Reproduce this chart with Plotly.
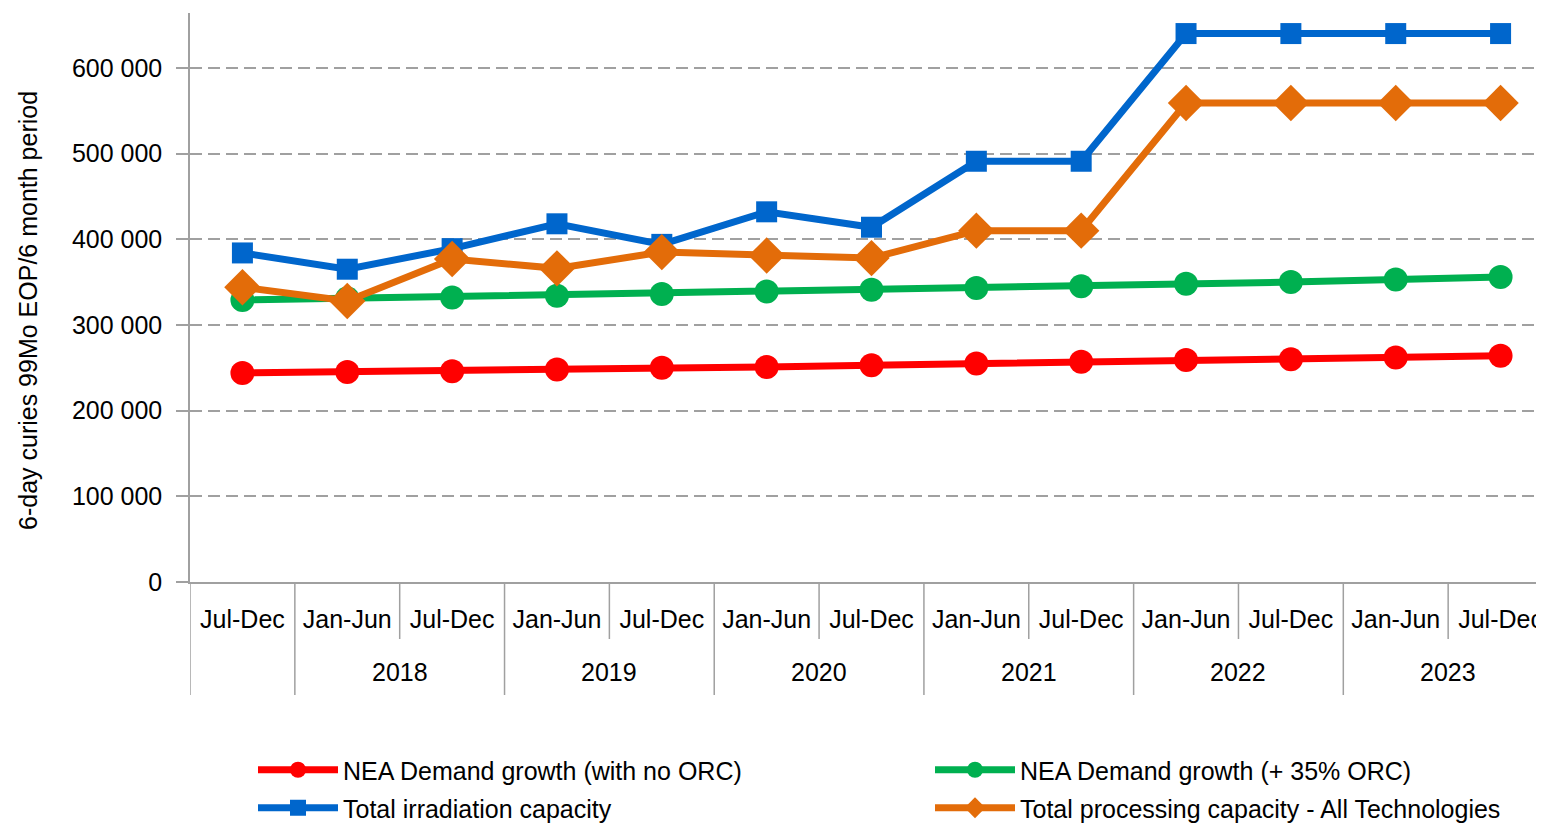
import plotly.graph_objects as go

years = ["", "2018", "2018", "2019", "2019", "2020", "2020", "2021", "2021", "2022", "2022", "2023", "2023"]
halves = ["Jul-Dec", "Jan-Jun", "Jul-Dec", "Jan-Jun", "Jul-Dec", "Jan-Jun", "Jul-Dec",
          "Jan-Jun", "Jul-Dec", "Jan-Jun", "Jul-Dec", "Jan-Jun", "Jul-Dec"]

demand_no_orc = [244000, 245000, 246000, 248000, 250000, 251000, 253000, 255000, 257000, 259000, 260000, 262000, 264000]
demand_35_orc = [329000, 331000, 332000, 334000, 336000, 339000, 341000, 343000, 345000, 348000, 350000, 353000, 356000]
irradiation = [384000, 365000, 389000, 418000, 394000, 432000, 414000, 491000, 491000, 640000, 640000, 640000, 640000]
processing = [344000, 328000, 377000, 366000, 385000, 381000, 378000, 410000, 410000, 559000, 559000, 559000, 559000]

FONT = "Liberation Sans Narrow, Arial Narrow, Liberation Sans, Arial, sans-serif"
FS = 25
GRAY = "#A0A0A0"

# page body has an 8px margin; figure coordinates are page coordinates minus 8
W, H = 1545, 817
ML, MT, MB = 182, 5, 243
plot_h = H - MT - MB
plot_w = W - ML

idx = list(range(len(halves)))

series = [
    ("NEA Demand growth (with no ORC)", demand_no_orc, "#FF0000", "circle", 24, "legend", 245, 762),
    ("NEA Demand growth (+ 35% ORC)", demand_35_orc, "#00B050", "circle", 24, "legend2", 922, 762),
    ("Total irradiation capacity", irradiation, "#0066CC", "square", 21, "legend3", 245, 800),
    ("Total processing capacity - All Technologies", processing, "#E36C09", "diamond", 28, "legend4", 922, 800),
]

fig = go.Figure()
legend_defs = {}
for name, vals, color, sym, sz, lg, lx, ly in series:
    fig.add_trace(go.Scatter(
        x=idx, y=vals, name=name, mode="lines+markers",
        line=dict(color=color, width=7),
        marker=dict(color=color, symbol=sym, size=sz),
        legend=lg,
    ))
    legend_defs[lg] = dict(
        x=lx / W, y=1 - ly / H, xref="container", yref="container",
        xanchor="left", yanchor="middle",
        itemwidth=80, font=dict(family=FONT, size=FS, color="#000000"),
        bgcolor="rgba(0,0,0,0)", borderwidth=0,
    )

fig.update_layout(
    width=W, height=H,
    margin=dict(l=ML, r=0, t=MT, b=MB, autoexpand=False),
    paper_bgcolor="white", plot_bgcolor="white",
    font=dict(family=FONT, size=FS, color="#000000"),
    separators=". ",
    showlegend=True,
    **legend_defs,
)

fig.update_yaxes(
    range=[0, 664000], tickvals=[0, 100000, 200000, 300000, 400000, 500000, 600000],
    tickformat=",d", automargin=False, ticklabelstandoff=9,
    showgrid=True, gridcolor=GRAY, griddash="12px,6px", gridwidth=1.5,
    showline=True, linecolor=GRAY, linewidth=1.5,
    ticks="outside", ticklen=12, tickcolor=GRAY, tickwidth=1.5,
    zeroline=False,
)
fig.update_xaxes(
    range=[-0.5, len(halves) - 0.5], automargin=False,
    tickvals=idx, ticktext=halves,
    showline=True, linecolor=GRAY, linewidth=1.5,
    ticks="outside", ticklen=14, tickcolor="rgba(0,0,0,0)",
    showgrid=False, zeroline=False,
)

# y-axis title
fig.add_annotation(x=(20 - ML) / plot_w, y=(574 - 303) / plot_h, xref="paper", yref="paper",
                   text="6-day curies 99Mo EOP/6 month period", textangle=-90,
                   showarrow=False, xanchor="center", yanchor="middle",
                   font=dict(family=FONT, size=FS, color="#000000"))

# category boundary dividers
short_y = -57 / plot_h
long_y = -113 / plot_h
fig.add_shape(type="line", xref="x", yref="paper", x0=-0.5, x1=-0.5, y0=0, y1=long_y,
              line=dict(color=GRAY, width=1.5))
for i in range(len(halves) - 1):
    yb = long_y if years[i] != years[i + 1] else short_y
    fig.add_shape(type="line", xref="x", yref="paper", x0=i + 0.5, x1=i + 0.5, y0=0, y1=yb,
                  line=dict(color=GRAY, width=1.5))

# year labels
year_y = -90 / plot_h
for yr in dict.fromkeys(years):
    if not yr:
        continue
    pos = [i for i, y in enumerate(years) if y == yr]
    fig.add_annotation(x=sum(pos) / len(pos), y=year_y, xref="x", yref="paper",
                       text=yr, showarrow=False, yanchor="middle",
                       font=dict(family=FONT, size=FS, color="#000000"))

fig.write_html("out.html",
               post_script="document.documentElement.style.overflow='hidden';"
                           "document.body.style.overflow='hidden';")
